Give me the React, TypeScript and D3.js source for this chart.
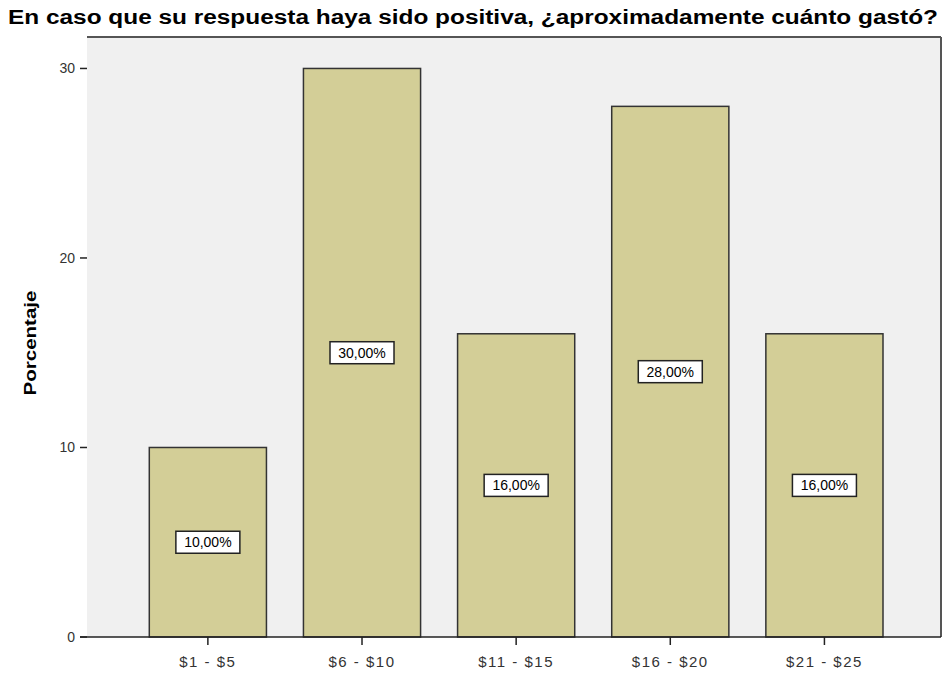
import React from "react";
import * as d3 from "d3";

const categories = ["$1 - $5", "$6 - $10", "$11 - $15", "$16 - $20", "$21 - $25"];
const values = [10, 30, 16, 28, 16];
const yTicks = [0, 10, 20, 30];
const title = "En caso que su respuesta haya sido positiva, ¿aproximadamente cuánto gastó?";
const yLabel = "Porcentaje";

export default function App() {
  const W = 946, H = 673;
  const plotLeft = 87, plotRight = 941, plotTop = 37, plotBottom = 637;
  const y = d3.scaleLinear().domain([0, 31.66]).range([plotBottom, plotTop]);
  const x = d3.scaleBand<string>().domain(categories).range([149.3, 883]).paddingInner(0.24).paddingOuter(0);
  const fmt = (v: number) => v.toFixed(2).replace(".", ",") + "%";
  return (
    <svg width={W} height={H} style={{ position: "absolute", left: 0, top: 0, background: "#fff" }} fontFamily="'Liberation Sans', Arial, sans-serif">
      <text x={W / 2} y={24} textAnchor="middle" fontSize={20} fontWeight="bold" textLength={930} lengthAdjust="spacingAndGlyphs" fill="#000">{title}</text>
      <rect x={plotLeft} y={plotTop} width={plotRight - plotLeft} height={plotBottom - plotTop} fill="#f0f0f0" />
      <line x1={plotLeft} x2={plotRight} y1={plotTop} y2={plotTop} stroke="#555" strokeWidth={2} />
      <line x1={plotRight} x2={plotRight} y1={plotTop} y2={plotBottom} stroke="#555" strokeWidth={2} />
      {categories.map((c, i) => (
        <rect key={c} x={x(c)} y={y(values[i])} width={x.bandwidth()} height={plotBottom - y(values[i])} fill="#d3ce97" stroke="#333" strokeWidth={1.5} />
      ))}
      {categories.map((c, i) => {
        const cx = (x(c) as number) + x.bandwidth() / 2;
        const cy = (y(values[i]) + plotBottom) / 2;
        return (
          <g key={"l" + c}>
            <rect x={cx - 32} y={cy - 11} width={64} height={22} fill="#fff" stroke="#222" strokeWidth={1.5} />
            <text x={cx} y={cy + 5} textAnchor="middle" fontSize={14} fill="#000">{fmt(values[i])}</text>
          </g>
        );
      })}
      <line x1={80} x2={plotRight} y1={plotBottom} y2={plotBottom} stroke="#222" strokeWidth={1.5} />
      {yTicks.map(t => (
        <g key={t}>
          <line x1={80} x2={plotLeft} y1={y(t)} y2={y(t)} stroke="#222" strokeWidth={1.5} />
          <text x={75} y={y(t) + 5} textAnchor="end" fontSize={14} fill="#333">{t}</text>
        </g>
      ))}
      {categories.map(c => {
        const cx = (x(c) as number) + x.bandwidth() / 2;
        return (
          <g key={"t" + c}>
            <line x1={cx} x2={cx} y1={plotBottom} y2={plotBottom + 8} stroke="#222" strokeWidth={1.5} />
            <text x={cx} y={plotBottom + 30} textAnchor="middle" fontSize={15} letterSpacing={1.5} fill="#333">{c}</text>
          </g>
        );
      })}
      <text transform={`translate(36,343) rotate(-90)`} textAnchor="middle" fontSize={16} fontWeight="bold" textLength={105} lengthAdjust="spacingAndGlyphs" fill="#000">{yLabel}</text>
    </svg>
  );
}
